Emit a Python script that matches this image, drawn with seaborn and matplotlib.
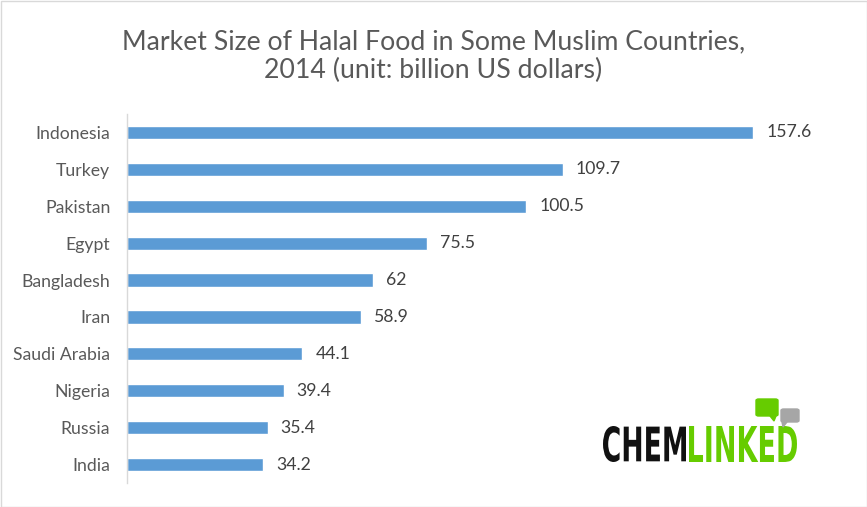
import matplotlib
matplotlib.use("Agg")
import matplotlib.pyplot as plt
import matplotlib.patches as mpatches
from matplotlib.textpath import TextPath
from matplotlib.font_manager import FontProperties
from matplotlib.transforms import Affine2D, IdentityTransform
import seaborn as sns
import pandas as pd

countries = ["Indonesia", "Turkey", "Pakistan", "Egypt", "Bangladesh",
             "Iran", "Saudi Arabia", "Nigeria", "Russia", "India"]
market_size = [157.6, 109.7, 100.5, 75.5, 62, 58.9, 44.1, 39.4, 35.4, 34.2]
value_labels = ["157.6", "109.7", "100.5", "75.5", "62",
                "58.9", "44.1", "39.4", "35.4", "34.2"]

df = pd.DataFrame({"country": countries, "size": market_size})

sns.set_style("white")
plt.rcParams["font.family"] = ["Lato", "DejaVu Sans"]

W, H = 867, 507
fig = plt.figure(figsize=(8.67, 5.07), dpi=100)
ax = fig.add_axes([127 / W, 1 - 483 / H, 715 / W, 369 / H])

sns.barplot(data=df, y="country", x="size", color="#5B9BD5", width=0.36,
            saturation=1, ax=ax)

for i, (v, lab) in enumerate(zip(market_size, value_labels)):
    ax.text(v + 3.3, i, lab, va="center", ha="left", fontsize=12.7, color="#404040")

ax.set_xlim(0, 180)
ax.set_ylim(9.5, -0.5)
ax.set_xlabel("")
ax.set_ylabel("")
ax.set_xticks([])
ax.tick_params(axis="y", length=0, pad=12, labelsize=12.7, labelcolor="#595959")
for s in ["top", "right", "bottom"]:
    ax.spines[s].set_visible(False)
ax.spines["left"].set_color("#D9D9D9")
ax.spines["left"].set_linewidth(1)

fig.text(0.5, 1 - 56 / H, "Market Size of Halal Food in Some Muslim Countries,\n2014 (unit: billion US dollars)",
         ha="center", va="center", fontsize=19.2, color="#595959", linespacing=1.2)

# figure border
fig.patches.append(mpatches.Rectangle((0.5 / W, 0.5 / H), 866 / W, 506 / H,
                                      transform=fig.transFigure, fill=False,
                                      edgecolor="#D9D9D9", linewidth=1))


# logo: text paths squeezed into pixel boxes (pixel coords from top-left)
def logo_word(word, x0, x1, ytop, ybot, color):
    tp = TextPath((0, 0), word, size=10, prop=FontProperties(family="DejaVu Sans", weight="bold"))
    ext = tp.get_extents()
    sx = (x1 - x0) / ext.width
    sy = (ybot - ytop) / ext.height
    tr = Affine2D().translate(-ext.x0, -ext.y0).scale(sx, sy).translate(x0, H - ybot)
    patch = mpatches.PathPatch(tr.transform_path(tp), facecolor=color, edgecolor="none",
                               transform=IdentityTransform())
    fig.add_artist(patch)


def px_patch(path_points, color):
    pts = [(x / W, 1 - y / H) for x, y in path_points]
    fig.patches.append(mpatches.Polygon(pts, transform=fig.transFigure, color=color))


logo_word("CHEM", 603, 686, 426, 462, "#111111")
logo_word("LINKED", 689, 797, 426, 462, "#66CC00")
fig.patches.append(mpatches.FancyBboxPatch((756 / W, 1 - 416 / H), 22 / W, 17 / H,
                                           boxstyle="round,pad=0,rounding_size=0.003",
                                           transform=fig.transFigure, color="#66CC00"))
px_patch([(770, 416), (776, 416), (774, 421)], "#66CC00")
fig.patches.append(mpatches.FancyBboxPatch((781 / W, 1 - 422 / H), 18 / W, 13 / H,
                                           boxstyle="round,pad=0,rounding_size=0.003",
                                           transform=fig.transFigure, color="#A6A6A6"))
px_patch([(782, 422), (787, 422), (783, 427)], "#A6A6A6")

fig.savefig("out.png", dpi=100)
